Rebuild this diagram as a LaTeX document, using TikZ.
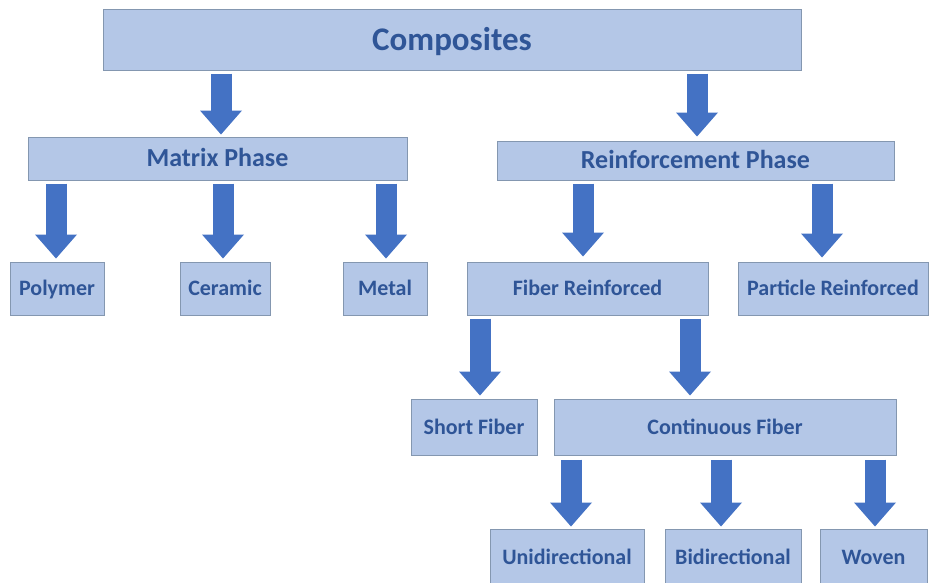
\documentclass[tikz,border=0pt]{standalone}
\usepackage{fontspec}
\setmainfont{Carlito}
\usetikzlibrary{arrows.meta,calc}
\definecolor{boxfill}{HTML}{B4C7E7}
\definecolor{boxline}{HTML}{8497B0}
\definecolor{txtblue}{HTML}{2F5597}
\definecolor{arrblue}{HTML}{4472C4}
\begin{document}
\begin{tikzpicture}[x=1pt,y=-1pt,
  box/.style={draw=boxline, fill=boxfill, line width=1pt, text=txtblue,
    inner sep=0pt, text height=14.2pt, text depth=0pt,
    font=\bfseries\fontsize{22}{26}\selectfont},
  midbox/.style={box, text height=16.7pt, font=\bfseries\fontsize{26}{30}\selectfont},
  topbox/.style={box, text height=21.3pt, font=\bfseries\fontsize{33}{38}\selectfont},
  barrow/.style={draw=arrblue, line width=21pt,
    -{Triangle[width=42pt,length=24pt,line width=0pt,fill=arrblue]}}]
\useasboundingbox (0,0) rectangle (931,582);
\fill[white] (0,0) rectangle (931,582);

\node[topbox, minimum width=698pt, minimum height=61pt] (comp) at (452,39.5) {Composites};
\node[midbox, minimum width=379pt, minimum height=43pt] (mat) at (217.5,158.5) {Matrix Phase};
\node[midbox, minimum width=397pt, minimum height=39pt] (rein) at (695.5,160.5) {Reinforcement Phase};

\node[box, minimum width=94pt, minimum height=53pt] (poly) at (57,288.5) {Polymer};
\node[box, minimum width=90pt, minimum height=53pt] (cer) at (225,288.5) {Ceramic};
\node[box, minimum width=84pt, minimum height=53pt] (met) at (385,288.5) {Metal};
\node[box, minimum width=241pt, minimum height=53pt] (fib) at (587.5,288.5) {Fiber Reinforced};
\node[box, minimum width=190pt, minimum height=53pt] (part) at (833,288.5) {Particle Reinforced};

\node[box, minimum width=126pt, minimum height=56pt] (short) at (474,427) {Short Fiber};
\node[box, minimum width=342pt, minimum height=56pt] (cont) at (725,427) {Continuous Fiber};

\node[box, minimum width=154pt, minimum height=56pt] (uni) at (567,557) {Unidirectional};
\node[box, minimum width=136pt, minimum height=56pt] (bi) at (733,557) {Bidirectional};
\node[box, minimum width=107pt, minimum height=56pt] (wov) at (873.5,557) {Woven};

\draw[barrow] ($(comp.south -| mat.north)+(3.5,3)$) -- ($(mat.north)+(3.5,-2)$);
\draw[barrow] ($(comp.south -| rein.north)+(1.5,3)$) -- ($(rein.north)+(1.5,-4)$);

\draw[barrow] ($(mat.south -| poly.north)+(-1,3)$) -- ($(poly.north)+(-1,-3)$);
\draw[barrow] ($(mat.south -| cer.north)+(-2,3)$) -- ($(cer.north)+(-2,-3)$);
\draw[barrow] ($(mat.south -| met.north)+(1,3)$) -- ($(met.north)+(1,-3)$);

\draw[barrow] ($(rein.south -| fib.north)+(-4.5,3)$) -- ($(fib.north)+(-4.5,-5)$);
\draw[barrow] ($(rein.south -| part.north)+(-11,3)$) -- ($(part.north)+(-11,-4)$);

\draw[barrow] ($(fib.south -| short.north)+(6,3)$) -- ($(short.north)+(6,-3)$);
\draw[barrow] ($(fib.south -| cont.north)+(-35,3)$) -- ($(cont.north)+(-35,-3)$);

\draw[barrow] ($(cont.south -| uni.north)+(4,4)$) -- ($(uni.north)+(4,-2)$);
\draw[barrow] ($(cont.south -| bi.north)+(-12,4)$) -- ($(bi.north)+(-12,-2)$);
\draw[barrow] ($(cont.south -| wov.north)+(1.5,4)$) -- ($(wov.north)+(1.5,-2)$);
\end{tikzpicture}
\end{document}
